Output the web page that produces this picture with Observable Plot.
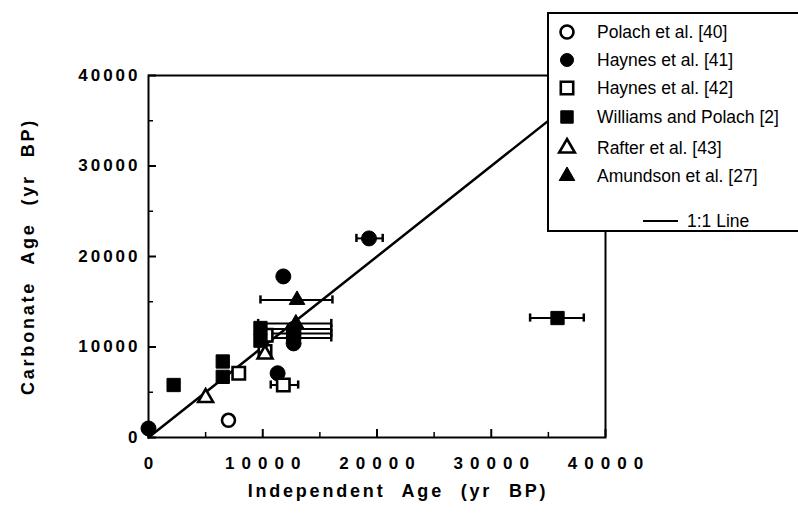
<!DOCTYPE html>
<html><head><meta charset="utf-8">
<script src="https://cdn.jsdelivr.net/npm/d3@7"></script>
<script src="https://cdn.jsdelivr.net/npm/@observablehq/plot@0.6"></script>
<style>
body{margin:0;background:#fff;overflow:hidden}
#wrap{position:relative;width:798px;height:514px;overflow:hidden}
#legend{position:absolute;left:547px;top:12px;width:300px;height:216px;border:2px solid #000;background:#fff}
#legend svg{display:block}
</style></head><body><div id="wrap"><div id="chart"></div><div id="legend"></div></div>
<script>
// ---- data ----
const xTicksMajor = [0, 10000, 20000, 30000, 40000];
const xTicksMinor = [5000, 15000, 25000, 35000];
const yTicksMajor = [0, 10000, 20000, 30000, 40000];
const yTicksMinor = [5000, 15000, 25000, 35000];
const oneToOne = [[0, 0], [40000, 40000]];

// Polach et al. [40] - open circle
const polach = [{x: 7000, y: 1900}];
// Haynes et al. [41] - filled circle
const haynes41 = [
  {x: 0, y: 1000},
  {x: 11300, y: 7100},
  {x: 12700, y: 10400},
  {x: 12700, y: 11000, x1: 9600, x2: 16000},
  {x: 12700, y: 11500, x1: 9600, x2: 16000},
  {x: 12700, y: 12000, x1: 9600, x2: 16000},
  {x: 11800, y: 17800},
  {x: 19300, y: 22000, x1: 18200, x2: 20500}
];
// Haynes et al. [42] - open square
const haynes42 = [
  {x: 7900, y: 7100},
  {x: 10200, y: 9500},
  {x: 10300, y: 11300},
  {x: 11800, y: 5800, x1: 10700, x2: 13100}
];
// Williams and Polach [2] - filled square
const williams = [
  {x: 2200, y: 5800},
  {x: 6500, y: 8400},
  {x: 6500, y: 6700},
  {x: 9800, y: 12100},
  {x: 9800, y: 10700},
  {x: 35800, y: 13200, x1: 33400, x2: 38100}
];
// Rafter et al. [43] - open triangle
const rafter = [
  {x: 5000, y: 4400},
  {x: 10200, y: 9200}
];
// Amundson et al. [27] - filled triangle
const amundson = [
  {x: 12900, y: 12600, x1: 9600, x2: 16000},
  {x: 13000, y: 15200, x1: 9800, x2: 16100}
];

const legendNames = ["Polach et al. [40]", "Haynes et al. [41]", "Haynes et al. [42]",
  "Williams and Polach [2]", "Rafter et al. [43]", "Amundson et al. [27]"];
const legendSymbols = ["circle", "circle", "square", "square", "triangle", "triangle"];
const legendFilled = [false, true, false, true, false, true];
const lineLabel = "1:1 Line";

const series = [polach, haynes41, haynes42, williams, rafter, amundson];
const withErr = series.flat().filter(d => d.x1 !== undefined);
const capHalf = 450;

const font = "'Liberation Sans', Arial, Helvetica, sans-serif";

function dots(data, sym, filled, r) {
  return Plot.dot(data, {x: "x", y: "y", symbol: () => sym, r,
    fill: filled ? "#000" : "#fff", stroke: "#000", strokeWidth: filled ? 1 : 2.6});
}

const chart = Plot.plot({
  width: 798, height: 514,
  marginLeft: 148, marginRight: 193, marginTop: 75, marginBottom: 77,
  style: {fontFamily: font, background: "#fff", color: "#000"},
  x: {domain: [0, 40000]},
  y: {domain: [0, 40000]},
  marks: [
    Plot.frame({stroke: "#000", strokeWidth: 2}),
    // inward tick marks
    Plot.ruleX(xTicksMajor, {x: d => d, y1: 0, y2: 880, stroke: "#000", strokeWidth: 2}),
    Plot.ruleX(xTicksMinor, {x: d => d, y1: 0, y2: 560, stroke: "#000", strokeWidth: 1.5}),
    Plot.ruleY(yTicksMajor, {y: d => d, x1: 0, x2: 700, stroke: "#000", strokeWidth: 2}),
    Plot.ruleY(yTicksMinor, {y: d => d, x1: 0, x2: 440, stroke: "#000", strokeWidth: 1.5}),
    Plot.axisX(xTicksMajor, {tickSize: 0, tickPadding: 19, fontSize: 17, fontWeight: "bold", dx: 3.5, tickFormat: d3.format("d"), label: null}),
    Plot.axisY(yTicksMajor, {tickSize: 0, tickPadding: 8, fontSize: 17, fontWeight: "bold", tickFormat: d3.format("d"), label: null}),
    Plot.line(oneToOne, {x: d => d[0], y: d => d[1], stroke: "#000", strokeWidth: 2.5}),
    Plot.ruleY(withErr, {x1: "x1", x2: "x2", y: "y", stroke: "#000", strokeWidth: 2}),
    Plot.ruleX(withErr, {x: "x1", y1: d => d.y - capHalf, y2: d => d.y + capHalf, stroke: "#000", strokeWidth: 2.5}),
    Plot.ruleX(withErr, {x: "x2", y1: d => d.y - capHalf, y2: d => d.y + capHalf, stroke: "#000", strokeWidth: 2.5}),
    dots(polach, "circle", false, 6.5),
    dots(haynes41, "circle", true, 7.5),
    dots(haynes42, "square", false, 7),
    dots(williams, "square", true, 7.5),
    dots(rafter, "triangle", false, 5.5),
    dots(amundson, "triangle", true, 5.8),
    Plot.text(["Independent Age (yr BP)"], {frameAnchor: "bottom", dy: 59, dx: 21, fontSize: 18, fontWeight: "bold"}),
    Plot.text(["Carbonate Age (yr BP)"], {frameAnchor: "left", textAnchor: "middle", dx: -120, rotate: -90, fontSize: 18, fontWeight: "bold"})
  ]
});
document.getElementById("chart").append(chart);

const svg = d3.select(chart);
svg.selectAll('g[aria-label="x-axis tick label"] text').style("letter-spacing", "7px");
svg.selectAll('g[aria-label="y-axis tick label"] text').style("letter-spacing", "3px");
svg.selectAll('g[aria-label="text"] text').style("letter-spacing", "2.8px").style("word-spacing", "9px");

// ---- legend ----
const lg = d3.select("#legend").append("svg").attr("width", 300).attr("height", 216)
  .style("font-family", font).style("font-size", "17.5px");
const rowY = [18, 46, 74, 103, 134, 162];
const sizes = {circle: Math.PI * 6.5 * 6.5, square: Math.PI * 7 * 7, triangle: Math.PI * 5.8 * 5.8};
legendNames.forEach((name, i) => {
  const sym = legendSymbols[i];
  lg.append("path")
    .attr("transform", `translate(18,${rowY[i]})`)
    .attr("d", d3.symbol(sym === "circle" ? d3.symbolCircle : sym === "square" ? d3.symbolSquare : d3.symbolTriangle, sizes[sym])())
    .attr("fill", legendFilled[i] ? "#000" : "#fff")
    .attr("stroke", "#000").attr("stroke-width", legendFilled[i] ? 1 : 2.6);
  lg.append("text").attr("x", 48).attr("y", rowY[i]).attr("dy", "0.35em").text(name);
});
lg.append("line").attr("x1", 94).attr("x2", 129).attr("y1", 207).attr("y2", 207).attr("stroke", "#000").attr("stroke-width", 2);
lg.append("text").attr("x", 138).attr("y", 207).attr("dy", "0.35em").text(lineLabel);
</script>
</body></html>
